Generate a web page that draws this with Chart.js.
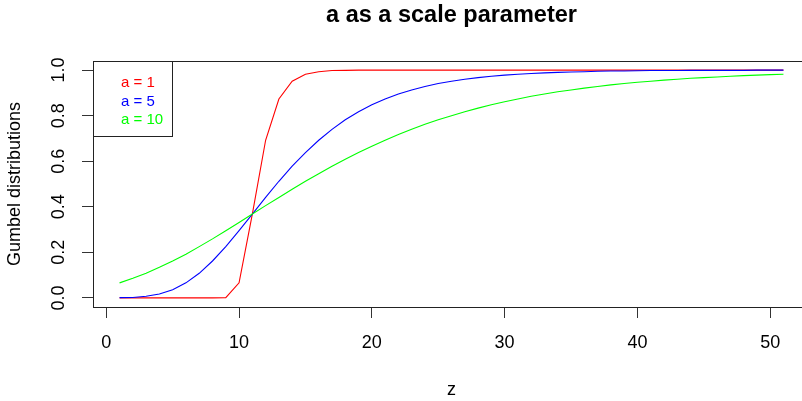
<!DOCTYPE html>
<html>
<head>
<meta charset="utf-8">
<script src="https://cdn.jsdelivr.net/npm/chart.js@4.4.1/dist/chart.umd.min.js"></script>
<style>
  html, body { margin: 0; padding: 0; background: #fff; overflow: hidden; }
  #wrap { width: 830px; height: 401px; position: relative; }
</style>
</head>
<body>
<div id="wrap"><canvas id="gumbelChart"></canvas></div>
<script>
var zValues = [1,2,3,4,5,6,7,8,9,10,11,12,13,14,15,16,17,18,19,20,21,22,23,24,25,26,27,28,29,30,
  31,32,33,34,35,36,37,38,39,40,41,42,43,44,45,46,47,48,49,50,51];

var gumbelA1 = [0,0,0,0,0,0,0,0,0.001,0.066,0.368,0.692,0.873,0.951,0.982,0.993,0.998,0.999,1,1,
  1,1,1,1,1,1,1,1,1,1,1,1,1,1,1,1,1,1,1,1,1,1,1,1,1,1,1,1,1,1,1];

var gumbelA5 = [0.001,0.002,0.007,0.017,0.036,0.066,0.108,0.162,0.225,0.295,
  0.368,0.441,0.512,0.578,0.638,0.692,0.740,0.782,0.817,0.848,
  0.873,0.895,0.913,0.928,0.941,0.951,0.960,0.967,0.973,0.978,
  0.982,0.985,0.988,0.990,0.992,0.993,0.995,0.996,0.996,0.997,
  0.998,0.998,0.998,0.999,0.999,0.999,0.999,0.999,1.000,1.000,1.000];

var gumbelA10 = [0.066,0.086,0.108,0.134,0.162,0.192,0.225,0.259,0.295,0.331,
  0.368,0.405,0.441,0.477,0.512,0.545,0.578,0.609,0.638,0.666,
  0.692,0.717,0.740,0.762,0.782,0.800,0.817,0.833,0.848,0.861,
  0.873,0.885,0.895,0.905,0.913,0.921,0.928,0.935,0.941,0.947,
  0.951,0.956,0.960,0.964,0.967,0.970,0.973,0.976,0.978,0.980,0.982];

var seriesLabels = ['a = 1', 'a = 5', 'a = 10'];
var seriesColors = ['#ff0000', '#0000ff', '#00ff00'];
var xTicks = [0, 10, 20, 30, 40, 50];
var yTicks = [0, 0.2, 0.4, 0.6, 0.8, 1.0];

var fontFamily = '"Liberation Sans", Arial, sans-serif';

function toPoints(values) {
  return zValues.map(function (z, i) { return { x: z, y: values[i] }; });
}

var seriesData = [gumbelA1, gumbelA5, gumbelA10];
var datasets = seriesData.map(function (vals, i) {
  return {
    label: seriesLabels[i],
    data: toPoints(vals),
    borderColor: seriesColors[i],
    borderWidth: 1.1,
    pointRadius: 0,
    tension: 0,
    fill: false,
    order: seriesData.length - i // later series drawn on top, like R
  };
});

// box around plot area + legend in the top-left corner (R style)
var boxPlugin = {
  id: 'rBox',
  afterDraw: function (chart) {
    var ctx = chart.ctx;
    var a = chart.chartArea;
    ctx.save();
    ctx.strokeStyle = '#222';
    ctx.lineWidth = 1;
    ctx.strokeRect(Math.round(a.left) + 0.5, Math.round(a.top) + 0.5,
      Math.round(a.right - a.left), Math.round(a.bottom - a.top));

    // legend
    var lx = Math.round(a.left) + 0.5, ly = Math.round(a.top) + 0.5;
    ctx.strokeRect(lx, ly, 79, 75);
    ctx.font = '15px ' + fontFamily;
    ctx.textBaseline = 'middle';
    ctx.textAlign = 'left';
    chart.data.datasets.forEach(function (ds, i) {
      ctx.fillStyle = ds.borderColor;
      ctx.fillText(ds.label, a.left + 28, a.top + 22 + i * 18.5);
    });
    ctx.restore();
  }
};

var ctx = document.getElementById('gumbelChart').getContext('2d');
new Chart(ctx, {
  type: 'line',
  data: { datasets: datasets },
  options: {
    responsive: true,
    maintainAspectRatio: false,
    animation: false,
    layout: { padding: { left: 0, right: 20, top: 0, bottom: 0 } },
    scales: {
      x: {
        type: 'linear',
        min: -1,
        max: 53,
        afterBuildTicks: function (scale) {
          scale.ticks = xTicks.map(function (v) { return { value: v }; });
        },
        afterFit: function (scale) { scale.height = 94; },
        grid: { drawOnChartArea: false, drawTicks: true, tickLength: 11, color: '#333' },
        border: { display: false },
        ticks: {
          color: '#000',
          font: { family: fontFamily, size: 18 },
          padding: 14,
          maxRotation: 0,
          autoSkip: false
        },
        title: {
          display: true,
          text: 'z',
          color: '#000',
          font: { family: fontFamily, size: 18 },
          padding: { top: 0, bottom: 0 }
        }
      },
      y: {
        type: 'linear',
        min: -0.04,
        max: 1.04,
        afterBuildTicks: function (scale) {
          scale.ticks = yTicks.map(function (v) { return { value: v }; });
        },
        afterFit: function (scale) { scale.width = 93; },
        grid: { drawOnChartArea: false, drawTicks: true, tickLength: 11, color: '#333' },
        border: { display: false },
        ticks: {
          color: '#000',
          font: { family: fontFamily, size: 18 },
          padding: 10,
          minRotation: 90,
          maxRotation: 90,
          crossAlign: 'center',
          autoSkip: false,
          callback: function (v) { return Number(v).toFixed(1); }
        },
        title: {
          display: true,
          text: 'Gumbel distributions',
          color: '#000',
          font: { family: fontFamily, size: 18 },
          padding: { top: 4, bottom: 0 }
        }
      }
    },
    plugins: {
      legend: { display: false },
      tooltip: { enabled: false },
      title: {
        display: true,
        fullSize: false,
        text: 'a as a scale parameter',
        color: '#000',
        font: { family: fontFamily, size: 23.5, weight: 'bold', lineHeight: 1 },
        padding: { top: 4, bottom: 33.5 }
      }
    }
  },
  plugins: [boxPlugin]
});
</script>
</body>
</html>
